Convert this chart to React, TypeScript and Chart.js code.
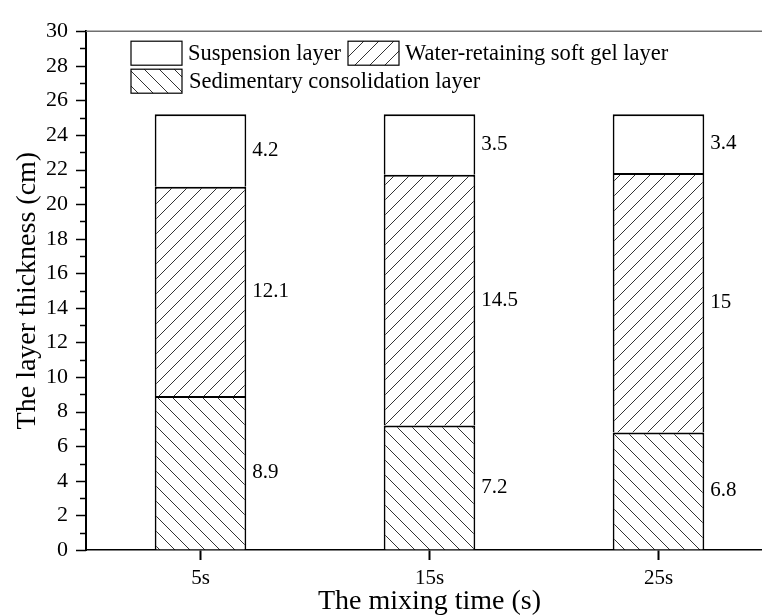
import React, { useEffect, useRef } from 'react';
import { Chart, registerables } from 'chart.js';

Chart.register(...registerables);

const categories = ['5s', '15s', '25s'];
const sedimentary = [8.9, 7.2, 6.8];
const gel = [12.1, 14.5, 15];
const suspension = [4.2, 3.5, 3.4];
const yTicks = [0, 2, 4, 6, 8, 10, 12, 14, 16, 18, 20, 22, 24, 26, 28, 30];

const SERIF = '"Liberation Serif", "Times New Roman", serif';

function makeHatch(dir: number): CanvasPattern | string {
  const size = 15;
  const c = document.createElement('canvas');
  c.width = size;
  c.height = size;
  const ctx = c.getContext('2d');
  if (!ctx) return '#fff';
  ctx.fillStyle = '#fff';
  ctx.fillRect(0, 0, size, size);
  ctx.strokeStyle = '#333';
  ctx.lineWidth = 1;
  ctx.beginPath();
  if (dir > 0) {
    ctx.moveTo(0, size); ctx.lineTo(size, 0);
    ctx.moveTo(-2, 2); ctx.lineTo(2, -2);
    ctx.moveTo(size - 2, size + 2); ctx.lineTo(size + 2, size - 2);
  } else {
    ctx.moveTo(0, 0); ctx.lineTo(size, size);
    ctx.moveTo(-2, size - 2); ctx.lineTo(2, size + 2);
    ctx.moveTo(size - 2, -2); ctx.lineTo(size + 2, 2);
  }
  ctx.stroke();
  const p = ctx.createPattern(c, 'repeat');
  return p || '#fff';
}

export default function App() {
  const ref = useRef<HTMLCanvasElement | null>(null);

  useEffect(() => {
    if (!ref.current) return;
    const slash = makeHatch(1);
    const back = makeHatch(-1);

    const frameAndTicks = {
      id: 'frameAndTicks',
      afterDraw(chart: any) {
        const { ctx, chartArea } = chart;
        const y = chart.scales.y;
        ctx.save();
        ctx.strokeStyle = '#6f6f6f';
        ctx.lineWidth = 1.5;
        ctx.beginPath();
        ctx.moveTo(chartArea.left, y.getPixelForValue(30));
        ctx.lineTo(chartArea.right, y.getPixelForValue(30));
        ctx.stroke();
        ctx.strokeStyle = '#000';
        ctx.lineWidth = 1.5;
        for (let v = 0; v <= 30; v++) {
          const py = Math.round(y.getPixelForValue(v)) + 0.5;
          const len = v % 2 === 0 ? 10 : 6;
          ctx.beginPath();
          ctx.moveTo(chartArea.left - len, py);
          ctx.lineTo(chartArea.left, py);
          ctx.stroke();
        }
        ctx.restore();
      },
    };

    const valueLabels = {
      id: 'valueLabels',
      afterDatasetsDraw(chart: any) {
        const { ctx } = chart;
        ctx.save();
        ctx.font = `21px ${SERIF}`;
        ctx.fillStyle = '#000';
        ctx.textAlign = 'left';
        ctx.textBaseline = 'middle';
        chart.data.datasets.forEach((ds: any, di: number) => {
          const meta = chart.getDatasetMeta(di);
          meta.data.forEach((el: any, i: number) => {
            const p = el.getProps(['x', 'y', 'base', 'width'], true);
            ctx.fillText(String(ds.data[i]), p.x + p.width / 2 + 6, (p.y + p.base) / 2);
          });
        });
        ctx.restore();
      },
    };

    const customLegend = {
      id: 'customLegend',
      afterDraw(chart: any) {
        const { ctx, chartArea } = chart;
        const ds = chart.data.datasets;
        const items = [
          { d: ds[2], dx: 45, dy: 10, tx: 6 },
          { d: ds[1], dx: 262, dy: 10, tx: 6 },
          { d: ds[0], dx: 45, dy: 38, tx: 7 },
        ];
        ctx.save();
        ctx.font = `22.5px ${SERIF}`;
        ctx.textAlign = 'left';
        ctx.textBaseline = 'middle';
        items.forEach((it) => {
          const x = chartArea.left + it.dx;
          const y = chartArea.top + it.dy;
          const w = 51;
          const h = 24;
          ctx.fillStyle = it.d.backgroundColor;
          ctx.fillRect(x, y, w, h);
          ctx.strokeStyle = '#000';
          ctx.lineWidth = 1.2;
          ctx.strokeRect(x, y, w, h);
          ctx.fillStyle = '#000';
          ctx.fillText(it.d.label, x + w + it.tx, y + h / 2 + 1);
        });
        ctx.restore();
      },
    };

    const bw = { top: 2, left: 1.8, right: 1.8, bottom: 0 };

    const chart = new Chart(ref.current, {
      type: 'bar',
      data: {
        labels: categories,
        datasets: [
          { label: 'Sedimentary consolidation layer', data: sedimentary, backgroundColor: back as any, borderColor: '#000', borderWidth: bw as any, borderSkipped: false },
          { label: 'Water-retaining soft gel layer', data: gel, backgroundColor: slash as any, borderColor: '#000', borderWidth: bw as any, borderSkipped: false },
          { label: 'Suspension layer', data: suspension, backgroundColor: '#fff', borderColor: '#000', borderWidth: bw as any, borderSkipped: false },
        ],
      },
      options: {
        responsive: false,
        animation: false,
        layout: { padding: { top: 21, left: 0, right: 0, bottom: 0 } },
        datasets: { bar: { categoryPercentage: 1, barPercentage: 0.4 } },
        plugins: { legend: { display: false }, tooltip: { enabled: false } },
        scales: {
          x: {
            stacked: true,
            grid: { display: true, drawOnChartArea: false, drawTicks: true, tickLength: 10, tickColor: '#000', tickWidth: 2, offset: false },
            border: { display: true, color: '#000', width: 1.5 },
            ticks: { color: '#000', font: { family: SERIF, size: 21 }, padding: 6 },
            title: { display: true, text: 'The mixing time (s)', color: '#000', font: { family: SERIF, size: 28, lineHeight: 1.0 }, padding: { top: 0, bottom: 0 } },
            afterFit: (s: any) => { s.height = 66; },
          },
          y: {
            stacked: true,
            min: 0,
            max: 30,
            afterBuildTicks: (s: any) => { s.ticks = yTicks.map((v) => ({ value: v })); },
            grid: { display: true, drawOnChartArea: false, drawTicks: false },
            border: { display: true, color: '#000', width: 2 },
            ticks: { color: '#000', font: { family: SERIF, size: 22 }, padding: 18 },
            title: { display: true, text: 'The layer thickness (cm)', color: '#000', font: { family: SERIF, size: 28 }, padding: { top: 11, bottom: 0 } },
            afterFit: (s: any) => { s.width = 86; },
          },
        },
      },
      plugins: [frameAndTicks, valueLabels, customLegend],
    });
    return () => chart.destroy();
  }, []);

  return (
    <div style={{ position: 'fixed', left: 0, top: 0, width: 762, height: 616, overflow: 'hidden', background: '#fff' }}>
      <canvas ref={ref} width={773} height={616} style={{ width: 773, height: 616, display: 'block' }} />
    </div>
  );
}
